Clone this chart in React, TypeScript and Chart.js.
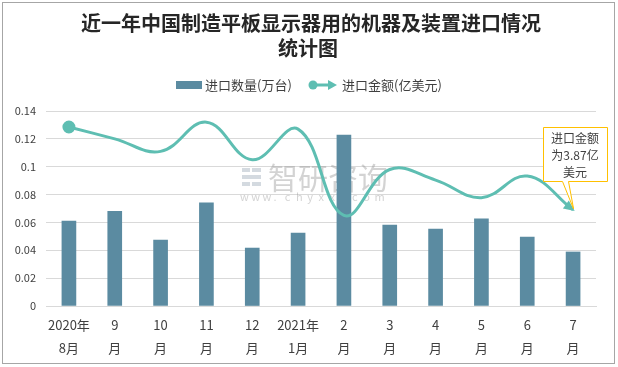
import React, { useEffect, useRef } from "react";
import { Chart, registerables } from "chart.js";

Chart.register(...registerables);

const categories: string[][] = [
  ["2020年", "8月"], ["9", "月"], ["10", "月"], ["11", "月"], ["12", "月"], ["2021年", "1月"],
  ["2", "月"], ["3", "月"], ["4", "月"], ["5", "月"], ["6", "月"], ["7", "月"],
];
const quantity: number[] = [0.061, 0.068, 0.0474, 0.074, 0.0416, 0.0524, 0.1228, 0.0581, 0.0553, 0.0625, 0.0495, 0.0388];
const amount: number[] = [0.1285, 0.12, 0.111, 0.132, 0.105, 0.127, 0.065, 0.098, 0.0904, 0.0778, 0.0933, 0.069];
const titleLines: string[] = ["近一年中国制造平板显示器用的机器及装置进口情况", "统计图"];
const legendQty = "进口数量(万台)";
const legendAmt = "进口金额(亿美元)";
const calloutLines: string[] = ["进口金额", "为3.87亿", "美元"];

const BAR = "#5b8ba1";
const LINE = "#5ebeb2";
const FONT = "'Noto Sans CJK SC', 'Microsoft YaHei', sans-serif";

const decorPlugin = {
  id: "decor",
  beforeDatasetsDraw(chart: any) {
    const ctx = chart.ctx;
    ctx.save();
    // watermark
    ctx.fillStyle = "rgba(160,172,186,0.45)";
    ctx.fillRect(242, 168, 8, 4);
    ctx.fillRect(252, 168, 9, 4);
    ctx.fillRect(242, 175, 19, 4);
    ctx.fillRect(242, 182, 8, 4);
    ctx.fillRect(252, 182, 9, 4);
    ctx.fillStyle = "rgba(150,150,150,0.42)";
    ctx.font = `30px ${FONT}`;
    ctx.textAlign = "left";
    ctx.textBaseline = "middle";
    ctx.fillText("智研咨询", 268, 178);
    ctx.font = `11px ${FONT}`;
    const wm = "www.chyxx.com";
    for (let i = 0; i < wm.length; i++) {
      ctx.fillText(wm[i], 240 + i * 11.2, 197);
    }
    ctx.restore();
  },
  afterDraw(chart: any) {
    const ctx = chart.ctx;
    ctx.save();
    // border
    ctx.strokeStyle = "#a6a6a6";
    ctx.lineWidth = 1;
    ctx.strokeRect(2.5, 2.5, 612, 361);
    // title
    ctx.fillStyle = "#262626";
    ctx.textAlign = "center";
    ctx.textBaseline = "middle";
    ctx.font = `bold 20px ${FONT}`;
    ctx.fillText(titleLines[0], 311, 23);
    ctx.fillText(titleLines[1], 308, 48);
    // legend
    ctx.font = `13px ${FONT}`;
    ctx.fillStyle = BAR;
    ctx.fillRect(176, 81, 26, 8);
    ctx.fillStyle = "#404040";
    ctx.textAlign = "left";
    ctx.fillText(legendQty, 205, 85);
    ctx.strokeStyle = LINE;
    ctx.fillStyle = LINE;
    ctx.lineWidth = 3;
    ctx.beginPath();
    ctx.moveTo(313, 85);
    ctx.lineTo(330, 85);
    ctx.stroke();
    ctx.beginPath();
    ctx.arc(313, 85, 4.5, 0, Math.PI * 2);
    ctx.fill();
    ctx.beginPath();
    ctx.moveTo(337, 85);
    ctx.lineTo(328, 80);
    ctx.lineTo(328, 90);
    ctx.closePath();
    ctx.fill();
    ctx.fillStyle = "#404040";
    ctx.fillText(legendAmt, 342, 85);

    // arrow head at line end
    const meta = chart.getDatasetMeta(1);
    const pts = meta.data;
    const last = pts[pts.length - 1];
    const cpx = last.cp1x ?? pts[pts.length - 2].x;
    const cpy = last.cp1y ?? pts[pts.length - 2].y;
    const ang = Math.atan2(last.y - cpy, last.x - cpx);
    ctx.fillStyle = LINE;
    ctx.beginPath();
    ctx.moveTo(last.x + Math.cos(ang) * 2, last.y + Math.sin(ang) * 2);
    ctx.lineTo(last.x - Math.cos(ang) * 9 - Math.sin(ang) * 5, last.y - Math.sin(ang) * 9 + Math.cos(ang) * 5);
    ctx.lineTo(last.x - Math.cos(ang) * 9 + Math.sin(ang) * 5, last.y - Math.sin(ang) * 9 - Math.cos(ang) * 5);
    ctx.closePath();
    ctx.fill();

    // callout
    const bx = 543, by = 127, bw = 64, bh = 54;
    ctx.fillStyle = "#ffffff";
    ctx.strokeStyle = "#ffc000";
    ctx.lineWidth = 1;
    ctx.beginPath();
    ctx.moveTo(bx + 0.5, by + 0.5);
    ctx.lineTo(bx + bw + 0.5, by + 0.5);
    ctx.lineTo(bx + bw + 0.5, by + bh + 0.5);
    ctx.lineTo(568.5, by + bh + 0.5);
    ctx.lineTo(last.x + 0.5, last.y - 1);
    ctx.lineTo(562.5, by + bh + 0.5);
    ctx.lineTo(bx + 0.5, by + bh + 0.5);
    ctx.closePath();
    ctx.fill();
    ctx.stroke();
    ctx.fillStyle = "#404040";
    ctx.font = `12px ${FONT}`;
    ctx.textAlign = "center";
    calloutLines.forEach((t, i) => ctx.fillText(t, 575, 138 + i * 17));
    ctx.restore();
  },
};

export default function App() {
  const ref = useRef<HTMLCanvasElement>(null);
  useEffect(() => {
    if (!ref.current) return;
    const chart = new Chart(ref.current, {
      type: "bar",
      data: {
        labels: categories as any,
        datasets: [
          {
            type: "bar",
            label: legendQty,
            data: quantity,
            backgroundColor: BAR,
            barThickness: 14,
            order: 2,
          },
          {
            type: "line",
            label: legendAmt,
            data: amount,
            borderColor: LINE,
            backgroundColor: LINE,
            borderWidth: 3,
            tension: 0.4,
            pointRadius: (c: any) => (c.dataIndex === 0 ? 5 : 0),
            pointHoverRadius: 0,
            order: 1,
          } as any,
        ],
      },
      options: {
        animation: false,
        responsive: false,
        maintainAspectRatio: false,
        layout: { padding: { top: 111, left: 0, right: 22, bottom: 0 } },
        plugins: { legend: { display: false }, title: { display: false }, tooltip: { enabled: false } },
        scales: {
          x: {
            grid: { display: false, drawTicks: false },
            border: { color: "#d9d9d9" },
            ticks: { color: "#404040", font: { family: FONT, size: 13, lineHeight: 1.75 }, padding: 8, maxRotation: 0, autoSkip: false },
            afterFit: (s: any) => { s.height = 61; },
          },
          y: {
            min: 0,
            max: 0.14,
            grid: { color: "#d9d9d9", drawTicks: false },
            border: { display: false },
            ticks: {
              stepSize: 0.02,
              color: "#404040",
              padding: 10,
              font: { family: FONT, size: 11 },
              callback: (v: any) => String(Math.round(Number(v) * 100) / 100),
            },
            afterFit: (s: any) => { s.width = 46; },
          },
        },
      },
      plugins: [decorPlugin],
    });
    return () => chart.destroy();
  }, []);
  return (
    <div style={{ position: "fixed", left: 0, top: 0, width: 618, height: 367, background: "#fff" }}>
      <canvas ref={ref} width={618} height={367} style={{ width: 618, height: 367 }} />
    </div>
  );
}
